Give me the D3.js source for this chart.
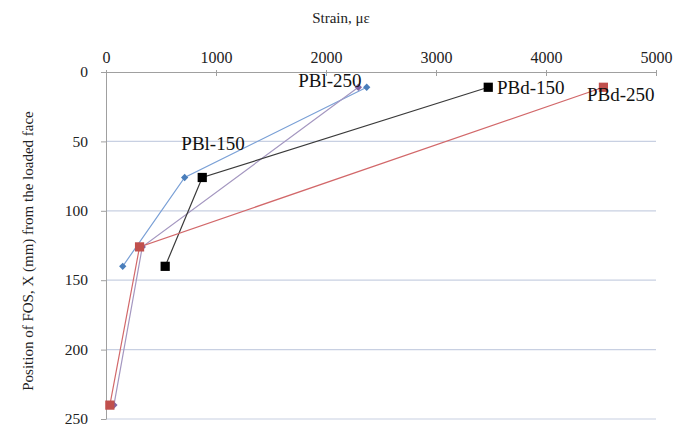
<!DOCTYPE html>
<html>
<head>
<meta charset="utf-8">
<script src="https://cdn.jsdelivr.net/npm/d3@7"></script>
<style>
  body { margin: 0; background: #fff; }
  svg text { font-family: "Liberation Serif", "Times New Roman", serif; }
</style>
</head>
<body>
<script>
var margin = {top: 72, right: 33, bottom: 8, left: 106};
var W = 689, H = 427;
var w = W - margin.left - margin.right;
var h = H - margin.top - margin.bottom;

// data: strain (µε) vs position X (mm)
var seriesNames = ["PBl-150", "PBl-250", "PBd-150", "PBd-250"];
var pbl150 = [{s: 2370, x: 11}, {s: 715, x: 76}, {s: 152, x: 140}];
var pbl250 = [{s: 2294, x: 11}, {s: 330, x: 126}, {s: 72, x: 240}];
var pbd150 = [{s: 3475, x: 11}, {s: 875, x: 76}, {s: 538, x: 140}];
var pbd250 = [{s: 4522, x: 11}, {s: 305, x: 126}, {s: 35, x: 240}];
var xTicks = [0, 1000, 2000, 3000, 4000, 5000];
var yTicks = [0, 50, 100, 150, 200, 250];

var series = [
    {name: seriesNames[0], data: pbl150, line: "#7aa0d6", fill: "#4a7ebb", shape: "diamond"},
    {name: seriesNames[1], data: pbl250, line: "#a497c0", fill: "#8064a2", shape: "diamond"},
    {name: seriesNames[2], data: pbd150, line: "#3a3a3a", fill: "#000000", shape: "square"},
    {name: seriesNames[3], data: pbd250, line: "#d2686a", fill: "#c0504d", shape: "square"}
];

var svg = d3.select("body").append("svg")
    .attr("width", W)
    .attr("height", H);

var g = svg.append("g")
    .attr("transform", "translate(" + margin.left + "," + margin.top + ")");

var x = d3.scaleLinear().domain([0, 5000]).range([0, w]);
var y = d3.scaleLinear().domain([0, 250]).range([0, h]);

// horizontal gridlines
g.selectAll(".grid")
    .data(yTicks.filter(function(d) { return d > 0; }))
    .enter().append("line")
    .attr("class", "grid")
    .attr("x1", 0).attr("x2", w)
    .attr("y1", function(d) { return y(d); })
    .attr("y2", function(d) { return y(d); })
    .attr("stroke", "#c8d0e2")
    .attr("stroke-width", 1.2);

// top axis
var xAxis = g.append("g")
    .call(d3.axisTop(x).tickValues(xTicks).tickFormat(d3.format("d")).tickSize(4).tickSizeOuter(0))
    .attr("font-size", 16)
    .attr("font-family", "Liberation Serif, serif");
xAxis.select(".domain").attr("stroke", "#a0a0a0");
xAxis.selectAll(".tick line").attr("stroke", "#a0a0a0").attr("y1", -2).attr("y2", 4);
xAxis.selectAll(".tick text").attr("y", -9).attr("fill", "#222");

// left axis
var yAxis = g.append("g")
    .call(d3.axisLeft(y).tickValues(yTicks).tickFormat(d3.format("d")).tickSize(5).tickSizeOuter(0))
    .attr("font-size", 15.5)
    .attr("font-family", "Liberation Serif, serif");
yAxis.select(".domain").attr("stroke", "#a0a0a0");
yAxis.selectAll(".tick line").attr("stroke", "#a0a0a0");
yAxis.selectAll(".tick text").attr("x", -18).attr("dy", "0.3em").attr("fill", "#222");

// axis titles
svg.append("text")
    .attr("x", 341).attr("y", 23)
    .attr("text-anchor", "middle")
    .attr("font-size", 15)
    .attr("fill", "#222")
    .text("Strain, \u03bc\u03b5");

svg.append("text")
    .attr("transform", "translate(33,251) rotate(-90)")
    .attr("text-anchor", "middle")
    .attr("font-size", 15)
    .attr("fill", "#222")
    .text("Position of  FOS, X (mm) from the loaded face");

var line = d3.line()
    .x(function(d) { return x(d.s); })
    .y(function(d) { return y(d.x); });

series.forEach(function(sr) {
    g.append("path")
        .datum(sr.data)
        .attr("d", line)
        .attr("fill", "none")
        .attr("stroke", sr.line)
        .attr("stroke-width", 1.2);
});

series.forEach(function(sr) {
    var sym = sr.shape === "diamond" ? d3.symbolDiamond2 : d3.symbolSquare;
    var size = sr.shape === "diamond" ? 34 : 85;
    g.selectAll(null)
        .data(sr.data)
        .enter().append("path")
        .attr("d", d3.symbol().type(sym).size(size))
        .attr("transform", function(d) {
            return "translate(" + x(d.s) + "," + y(d.x) + ")";
        })
        .attr("fill", sr.fill);
});

// series labels
var labels = [
    {name: seriesNames[0], s: 973, x: 56.5, anchor: "middle"},
    {name: seriesNames[1], s: 2036, x: 10.8, anchor: "middle"},
    {name: seriesNames[2], s: 3555, x: 15.8, anchor: "start"},
    {name: seriesNames[3], s: 4680, x: 21, anchor: "middle"}
];
g.selectAll(".lbl")
    .data(labels)
    .enter().append("text")
    .attr("class", "lbl")
    .attr("x", function(d) { return x(d.s); })
    .attr("y", function(d) { return y(d.x); })
    .attr("text-anchor", function(d) { return d.anchor; })
    .attr("font-size", 19)
    .attr("fill", "#111")
    .text(function(d) { return d.name; });
</script>
</body>
</html>
